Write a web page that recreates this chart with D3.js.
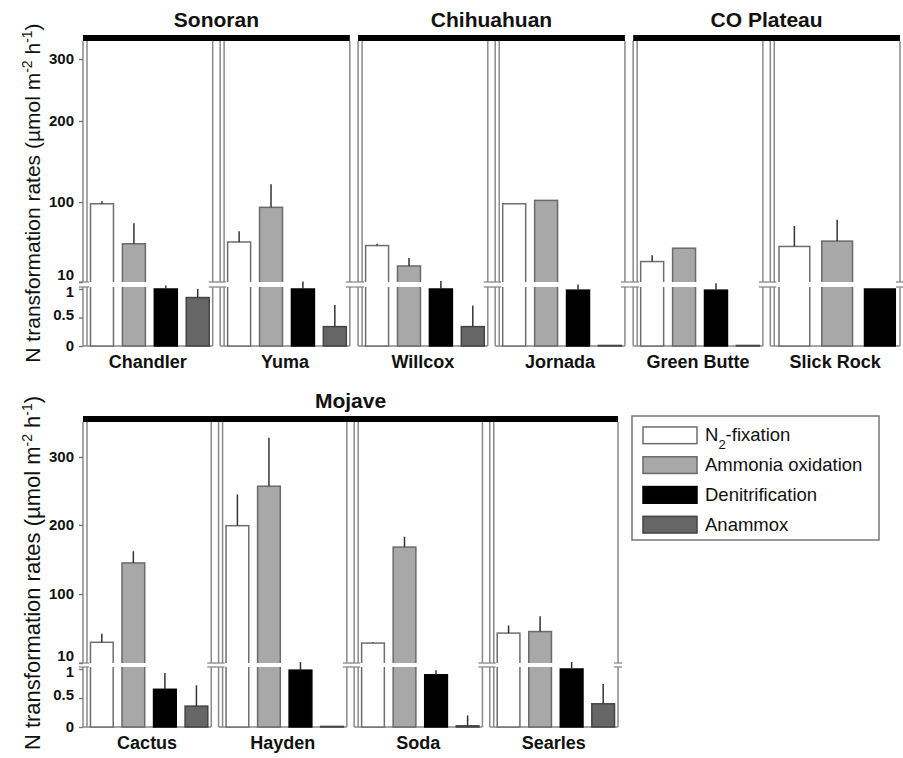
<!DOCTYPE html>
<meta charset="utf-8">
<html>
<head>
<script src="https://cdn.jsdelivr.net/npm/d3@7/dist/d3.min.js"></script>
<style>
  body { margin: 0; background: #fff; }
  svg text { font-family: "Liberation Sans", Arial, sans-serif; fill: #111; }
  .tick text { font-weight: bold; font-size: 15px; }
  .tick line { stroke: #777; stroke-width: 1.4; }
</style>
</head>
<body>
<script>
// data
var regionNames = ["Sonoran", "Chihuahuan", "CO Plateau", "Mojave"];
var regionSites = [["Chandler", "Yuma"], ["Willcox", "Jornada"], ["Green Butte", "Slick Rock"],
                   ["Cactus", "Hayden", "Soda", "Searles"]];
var sites = ["Chandler", "Yuma", "Willcox", "Jornada", "Green Butte", "Slick Rock",
             "Cactus", "Hayden", "Soda", "Searles"];
var series = ["N2-fixation", "Ammonia oxidation", "Denitrification", "Anammox"];

var n2Fixation      = [98, 55, 51, 98, 33, 50, 37, 199, 36, 49];
var n2FixationErr   = [3, 12, 2, 0, 7, 23, 11, 46, 1, 10];
var ammoniaOx       = [53, 94, 28, 102, 48, 56, 145, 257, 168, 51];
var ammoniaOxErr    = [23, 28, 9, 0, 0, 24, 17, 71, 15, 20];
var denitrification = [1.0, 1.0, 1.0, 0.98, 0.98, 1.0, 0.65, 0.98, 0.9, 1.0];
var denitrifErr     = [0.06, 0.13, 0.14, 0.1, 0.12, 0, 0.28, 0.14, 0.08, 0.12];
var anammox         = [0.85, 0.34, 0.34, 0.01, 0.01, null, 0.36, 0.01, 0.02, 0.4];
var anammoxErr      = [0.15, 0.38, 0.37, 0, 0, 0, 0.36, 0, 0.18, 0.34];

var upperTicks = [10, 100, 200, 300];
var lowerTicks = [0, 0.5, 1];

var values = [n2Fixation, ammoniaOx, denitrification, anammox];
var errors = [n2FixationErr, ammoniaOxErr, denitrifErr, anammoxErr];

var fills   = ["#ffffff", "#a8a8a8", "#000000", "#666666"];
var strokes = ["#6e6e6e", "#6a6a6a", "#000000", "#444444"];
var lineCol = "#8a8a8a";

var w = 903, h = 758;
var svg = d3.select("body").append("svg").attr("width", w).attr("height", h);

// two rows of panels, each with a broken y axis
var rows = [
  { regions: [0, 1, 2], x: [83, 900], barY: 35, top: 41,
    upD: [10, 100, 200, 300, 329], upR: [282, 202, 121, 59, 41], lowR: [346, 289],
    labelY: 368, titleY: 27, axisTitleY: 193, axisTitleSize: 21 },
  { regions: [3], x: [83, 618], barY: 416, top: 422,
    upD: [10, 100, 200, 300, 351], upR: [663, 594, 525, 457, 422], lowR: [727, 669],
    labelY: 749, titleY: 408, axisTitleY: 573, axisTitleSize: 22 }
];

rows.forEach(function(row, ri) {
  var upper = d3.scaleLinear().domain(row.upD).range(row.upR);
  var lower = d3.scaleLinear().domain([0, 1]).range(row.lowR);
  var y = function(v) { return v < 5 ? lower(v) : upper(v); };
  var gapTop = upper(10), gapBot = lower(1) - 2;
  var y0 = lower(0);

  var groupX = d3.scaleBand().domain(row.regions).range(row.x)
    .paddingInner(row.regions.length > 1 ? 0.03 : 0);

  // y axis title
  var at = svg.append("text")
    .attr("transform", "translate(40," + row.axisTitleY + ") rotate(-90)")
    .attr("text-anchor", "middle")
    .style("font-size", row.axisTitleSize + "px");
  at.append("tspan").text("N transformation rates (\u00b5mol m");
  at.append("tspan").attr("baseline-shift", "super").style("font-size", "14px").text("-2");
  at.append("tspan").text(" h");
  at.append("tspan").attr("baseline-shift", "super").style("font-size", "14px").text("-1");
  at.append("tspan").text(")");

  row.regions.forEach(function(r, gi) {
    var gx = groupX(r), gw = groupX.bandwidth();
    svg.append("rect").attr("x", gx).attr("y", row.barY)
      .attr("width", gw).attr("height", row.top - row.barY).attr("fill", "#000");
    svg.append("text").attr("x", gx + gw / 2).attr("y", row.titleY)
      .attr("text-anchor", "middle").style("font-size", "21px").style("font-weight", "bold")
      .text(regionNames[r]);

    var panelX = d3.scaleBand().domain(regionSites[r]).range([gx, gx + gw]).paddingInner(0.054);

    regionSites[r].forEach(function(site, pi) {
      var si = sites.indexOf(site);
      var x0 = panelX(site), x1 = x0 + panelX.bandwidth();
      var g = svg.append("g");

      // frame lines
      [x0, x0 + 4, x1].forEach(function(lx) {
        g.append("line").attr("x1", lx).attr("x2", lx).attr("y1", row.top).attr("y2", y0)
          .attr("stroke", lineCol).attr("stroke-width", 1.5);
      });
      g.append("line").attr("x1", x0).attr("x2", x1).attr("y1", y0).attr("y2", y0)
        .attr("stroke", lineCol).attr("stroke-width", 1.5);

      var present = series.filter(function(s, k) { return values[k][si] != null; });
      var bx = d3.scaleBand().domain(present).range([x0 + 4, x1])
        .paddingInner(0.28).paddingOuter(0.11);

      var bars = series.map(function(s, k) {
        return { s: s, k: k, v: values[k][si], e: errors[k][si] };
      }).filter(function(d) { return d.v != null; });

      g.selectAll("rect.bar").data(bars).enter().append("rect")
        .attr("class", "bar")
        .attr("x", function(d) { return bx(d.s); })
        .attr("width", bx.bandwidth())
        .attr("y", function(d) { return y(d.v); })
        .attr("height", function(d) { return Math.max(0.5, y0 - y(d.v)); })
        .attr("fill", function(d) { return fills[d.k]; })
        .attr("stroke", function(d) { return strokes[d.k]; })
        .attr("stroke-width", 1.5);

      // axis break
      g.append("rect").attr("x", x0 - 2).attr("width", x1 - x0 + 4)
        .attr("y", gapTop).attr("height", gapBot - gapTop).attr("fill", "#fff");
      [gapTop, gapBot].forEach(function(by) {
        [[x0 - 4, x0 + 6], [x1 - 4, x1 + 4]].forEach(function(seg) {
          g.append("line").attr("x1", seg[0]).attr("x2", seg[1]).attr("y1", by).attr("y2", by)
            .attr("stroke", lineCol).attr("stroke-width", 1.3);
        });
      });

      // error bars
      g.selectAll("line.err").data(bars.filter(function(d) { return d.e > 0; })).enter()
        .append("line").attr("class", "err")
        .attr("x1", function(d) { return bx(d.s) + bx.bandwidth() / 2; })
        .attr("x2", function(d) { return bx(d.s) + bx.bandwidth() / 2; })
        .attr("y1", function(d) { return y(d.v); })
        .attr("y2", function(d) { return d.v < 5 ? lower(d.v + d.e) : upper(d.v + d.e); })
        .attr("stroke", "#333").attr("stroke-width", 1.5);

      g.append("text").attr("x", (x0 + x1) / 2).attr("y", row.labelY)
        .attr("text-anchor", "middle").style("font-size", "18px").style("font-weight", "bold")
        .text(site);

      if (gi === 0 && pi === 0) {
        var ua = g.append("g").attr("transform", "translate(" + x0 + ",0)")
          .call(d3.axisLeft(upper).tickValues(upperTicks).tickSize(4).tickPadding(5)
            .tickFormat(d3.format("d")));
        var la = g.append("g").attr("transform", "translate(" + x0 + ",0)")
          .call(d3.axisLeft(lower).tickValues(lowerTicks).tickSize(4).tickPadding(5)
            .tickFormat(function(d) { return d === 0.5 ? "0.5" : d; }));
        ua.select(".domain").remove();
        la.select(".domain").remove();
        ua.selectAll(".tick").filter(function(d) { return d === 10; }).select("text").attr("dy", "-0.2em");
        la.selectAll(".tick").filter(function(d) { return d === 1; }).select("text").attr("dy", "0.5em");
        la.selectAll(".tick").filter(function(d) { return d === 0.5; }).select("text").attr("dy", "0.1em");
        svg.selectAll(".tick text").attr("fill", "#111");
      }
    });
  });
});

// legend
var lg = svg.append("g").attr("transform", "translate(632,416)");
lg.append("rect").attr("width", 247).attr("height", 124)
  .attr("fill", "#fff").attr("stroke", "#777").attr("stroke-width", 1.5);
var ly = d3.scaleBand().domain(series).range([8, 120]).paddingInner(0.44).paddingOuter(0.1);
series.forEach(function(s, k) {
  lg.append("rect").attr("x", 11).attr("y", ly(s)).attr("width", 54).attr("height", ly.bandwidth())
    .attr("fill", fills[k]).attr("stroke", strokes[k]).attr("stroke-width", 1.5);
  var t = lg.append("text").attr("x", 73).attr("y", ly(s) + ly.bandwidth() / 2 + 6)
    .style("font-size", "18.5px");
  if (k === 0) {
    t.append("tspan").text("N");
    t.append("tspan").attr("baseline-shift", "sub").style("font-size", "13px").text("2");
    t.append("tspan").text("-fixation");
  } else {
    t.text(s);
  }
});
</script>
</body>
</html>
